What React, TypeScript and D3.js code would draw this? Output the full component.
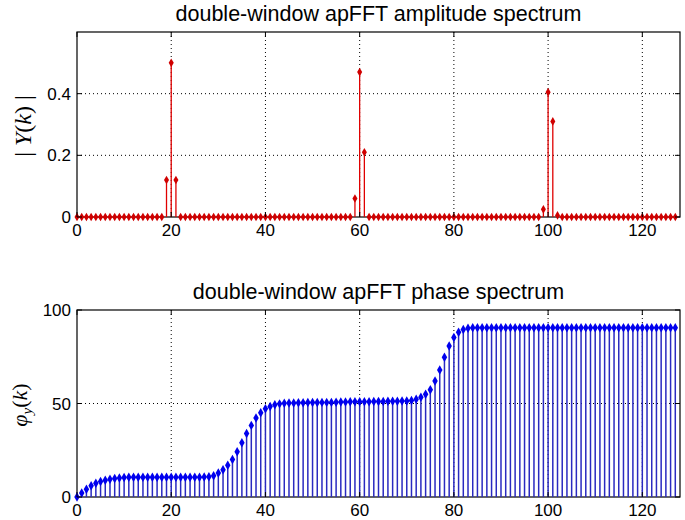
import React from 'react';
import * as d3 from 'd3';

// bins 0..127
const bins: number[] = d3.range(128);

// |Y(k)|
const amplitude: number[] = [
  0, 0, 0, 0, 0, 0, 0, 0, 0, 0, 0, 0, 0, 0, 0, 0,
  0, 0, 0, 0.12, 0.5, 0.12, 0, 0, 0, 0, 0, 0, 0, 0, 0, 0,
  0, 0, 0, 0, 0, 0, 0, 0, 0, 0, 0, 0, 0, 0, 0, 0,
  0, 0, 0, 0, 0, 0, 0, 0, 0, 0, 0, 0.06, 0.47, 0.21, 0, 0,
  0, 0, 0, 0, 0, 0, 0, 0, 0, 0, 0, 0, 0, 0, 0, 0,
  0, 0, 0, 0, 0, 0, 0, 0, 0, 0, 0, 0, 0, 0, 0, 0,
  0, 0, 0, 0.025, 0.405, 0.31, 0.005, 0, 0, 0, 0, 0, 0, 0, 0, 0,
  0, 0, 0, 0, 0, 0, 0, 0, 0, 0, 0, 0, 0, 0, 0, 0,
];

// phi_y(k)
const phase: number[] = [
  0, 2.1, 4.1, 6.0, 7.4, 8.3, 9.0, 9.5, 9.9, 10.2, 10.4, 10.5, 10.5, 10.5, 10.5, 10.5,
  10.5, 10.5, 10.5, 10.5, 10.6, 10.6, 10.6, 10.6, 10.6, 10.6, 10.6, 10.7, 10.8, 11.4, 12.8, 14.6,
  17.0, 20.0, 24.2, 29.0, 34.0, 38.3, 42.3, 45.0, 47.2, 48.4, 49.3, 49.8, 50.1, 50.3, 50.3, 50.4,
  50.4, 50.5, 50.5, 50.5, 50.6, 50.6, 50.6, 50.7, 50.8, 50.8, 50.9, 50.9, 51.0, 51.0, 51.0, 51.1,
  51.1, 51.1, 51.2, 51.2, 51.2, 51.3, 51.3, 51.6, 52.3, 53.4, 54.9, 57.3, 62.0, 67.9, 74.7, 80.8,
  85.3, 88.1, 89.6, 90.2, 90.5, 90.5, 90.5, 90.5, 90.5, 90.5, 90.5, 90.5, 90.5, 90.5, 90.5, 90.5,
  90.5, 90.5, 90.5, 90.5, 90.5, 90.5, 90.5, 90.5, 90.5, 90.5, 90.5, 90.5, 90.5, 90.5, 90.5, 90.5,
  90.5, 90.5, 90.5, 90.5, 90.5, 90.5, 90.5, 90.5, 90.5, 90.5, 90.5, 90.5, 90.5, 90.5, 90.5, 90.5,
];

const xTicks = [0, 20, 40, 60, 80, 100, 120];
const ampTicks = [0, 0.2, 0.4];
const phaseTicks = [0, 50, 100];

const W = 685;
const H = 520;
const LEFT = 77;
const RIGHT = 680;
const FONT = '"Liberation Sans", Arial, Helvetica, sans-serif';
const SERIF = '"Liberation Serif", "Times New Roman", serif';
const TICK = 5;

type PanelProps = {
  title: string;
  values: number[];
  yDomain: [number, number];
  yTicks: number[];
  top: number;
  bottom: number;
  color: string;
  markerColor: string;
  markerSize: number;
  stemWidth: number;
  yFmt: (v: number) => string;
  ylabel: React.ReactNode;
};

function Panel(p: PanelProps) {
  const x = d3.scaleLinear().domain([0, 128]).range([LEFT, RIGHT]);
  const y = d3.scaleLinear().domain(p.yDomain).range([p.bottom, p.top]);
  const marker = d3.symbol().type(d3.symbolDiamond).size(p.markerSize)();
  return (
    <g>
      <text x={(LEFT + RIGHT) / 2} y={p.top - 11} textAnchor="middle" fontFamily={FONT} fontSize={21.5} fill="#000">
        {p.title}
      </text>
      <rect x={LEFT} y={p.top} width={RIGHT - LEFT} height={p.bottom - p.top} fill="#fff" />
      {/* dotted grid */}
      {xTicks.filter(t => t > 0).map(t => (
        <line key={'gx' + t} x1={x(t)} x2={x(t)} y1={p.top} y2={p.bottom} stroke="#000" strokeDasharray="1,3" />
      ))}
      {p.yTicks.filter(t => y(t) > p.top + 1 && y(t) < p.bottom - 1).map(t => (
        <line key={'gy' + t} x1={LEFT} x2={RIGHT} y1={y(t)} y2={y(t)} stroke="#000" strokeDasharray="1,3" />
      ))}
      {/* box */}
      <rect x={LEFT} y={p.top} width={RIGHT - LEFT} height={p.bottom - p.top} fill="none" stroke="#000" strokeWidth={1.2} />
      {/* stems */}
      {bins.map(k => (
        p.values[k] > 0 ? (
          <line key={'s' + k} x1={x(k)} x2={x(k)} y1={y(0)} y2={y(p.values[k])} stroke={p.color} strokeWidth={p.stemWidth} />
        ) : null
      ))}
      {bins.map(k => (
        <path key={'m' + k} d={marker!} transform={`translate(${x(k)},${y(p.values[k])})`} fill={p.markerColor} />
      ))}
      {/* ticks */}
      {xTicks.map(t => (
        <g key={'tx' + t}>
          <line x1={x(t)} x2={x(t)} y1={p.bottom} y2={p.bottom - TICK} stroke="#000" />
          <line x1={x(t)} x2={x(t)} y1={p.top} y2={p.top + TICK} stroke="#000" />
          <text x={x(t)} y={p.bottom + 19} textAnchor="middle" fontFamily={FONT} fontSize={17} fill="#000">{t}</text>
        </g>
      ))}
      {p.yTicks.map(t => (
        <g key={'ty' + t}>
          <line x1={LEFT} x2={LEFT + TICK} y1={y(t)} y2={y(t)} stroke="#000" />
          <line x1={RIGHT} x2={RIGHT - TICK} y1={y(t)} y2={y(t)} stroke="#000" />
          <text x={LEFT - 6} y={y(t) + 6} textAnchor="end" fontFamily={FONT} fontSize={17} fill="#000">{p.yFmt(t)}</text>
        </g>
      ))}
      {p.ylabel}
    </g>
  );
}

export default function App() {
  return (
    <svg width={W} height={H} viewBox={`0 0 ${W} ${H}`} style={{ position: 'fixed', left: 0, top: 0, background: '#fff' }}>
      <rect width={W} height={H} fill="#fff" />
      <Panel
        title="double-window apFFT amplitude spectrum"
        values={amplitude}
        yDomain={[0, 0.6]}
        yTicks={ampTicks}
        top={32}
        bottom={217}
        color="#e00000"
        markerColor="#d00000"
        markerSize={22}
        stemWidth={1.3}
        yFmt={v => (v === 0 ? '0' : String(v))}
        ylabel={
          <text transform="translate(31,126) rotate(-90)" textAnchor="middle" fontFamily={SERIF} fontSize={24} fill="#000">
            <tspan>| </tspan>
            <tspan fontStyle="italic">Y</tspan>
            <tspan>(</tspan>
            <tspan fontStyle="italic">k</tspan>
            <tspan>) |</tspan>
          </text>
        }
      />
      <Panel
        title="double-window apFFT phase spectrum"
        values={phase}
        yDomain={[0, 100]}
        yTicks={phaseTicks}
        top={310}
        bottom={497}
        color="#2a2ac0"
        markerColor="#0000ee"
        markerSize={26}
        stemWidth={1.5}
        yFmt={v => String(v)}
        ylabel={
          <text transform="translate(27,405) rotate(-90)" textAnchor="middle" fontFamily={SERIF} fontSize={22} fill="#000">
            <tspan fontStyle="italic">φ</tspan>
            <tspan fontStyle="italic" fontSize={15} dy={5}>y</tspan>
            <tspan dy={-5}>(</tspan>
            <tspan fontStyle="italic">k</tspan>
            <tspan>)</tspan>
          </text>
        }
      />
    </svg>
  );
}
